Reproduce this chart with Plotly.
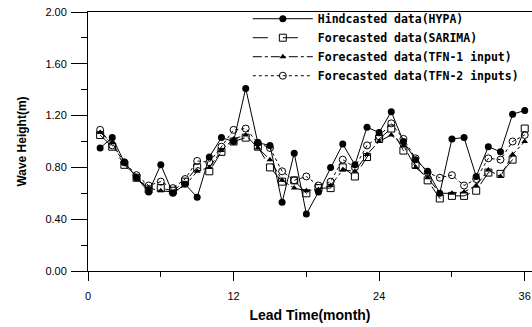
import plotly.graph_objects as go

lead_time = list(range(1, 37))
hypa = [0.95, 1.03, 0.84, 0.72, 0.61, 0.82, 0.60, 0.67, 0.57, 0.88, 1.03, 1.00,
        1.41, 0.99, 0.97, 0.53, 0.91, 0.44, 0.61, 0.80, 0.98, 0.82, 1.11, 1.07,
        1.23, 1.00, 0.86, 0.77, 0.60, 1.02, 1.03, 0.73, 0.96, 0.92, 1.21, 1.24]
sarima = [1.05, 0.96, 0.82, 0.72, 0.63, 0.64, 0.62, 0.69, 0.80, 0.77, 0.92, 1.00,
          1.03, 0.96, 0.80, 0.69, 0.70, 0.60, 0.64, 0.64, 0.80, 0.73, 0.88, 1.02,
          1.10, 0.93, 0.82, 0.70, 0.56, 0.58, 0.58, 0.62, 0.76, 0.75, 0.86, 1.10]
tfn1 = [1.07, 0.99, 0.83, 0.73, 0.64, 0.62, 0.61, 0.66, 0.77, 0.80, 0.93, 1.02,
        1.05, 0.95, 0.86, 0.70, 0.64, 0.62, 0.63, 0.66, 0.78, 0.77, 0.90, 1.00,
        1.05, 0.97, 0.80, 0.72, 0.60, 0.60, 0.61, 0.66, 0.78, 0.73, 0.90, 1.00]
tfn2 = [1.09, 0.97, 0.84, 0.74, 0.66, 0.69, 0.64, 0.71, 0.85, 0.84, 0.96, 1.09,
        1.10, 0.99, 0.95, 0.77, 0.70, 0.73, 0.66, 0.69, 0.86, 0.80, 0.97, 1.04,
        1.14, 1.02, 0.87, 0.76, 0.72, 0.74, 0.66, 0.71, 0.87, 0.86, 1.00, 1.05]

names = ["Hindcasted data(HYPA)", "Forecasted data(SARIMA)",
         "Forecasted data(TFN-1 input)", "Forecasted data(TFN-2 inputs)"]
x_tickvals = [0, 12, 24, 36]
y_tickvals = [0, 0.4, 0.8, 1.2, 1.6, 2.0]
y_ticktext = ["0.00", "0.40", "0.80", "1.20", "1.60", "2.00"]

fig = go.Figure()
fig.add_trace(go.Scatter(x=lead_time, y=hypa, name=names[0], mode="lines+markers",
                         line=dict(color="black", width=1),
                         marker=dict(symbol="circle", size=7, color="black")))
fig.add_trace(go.Scatter(x=lead_time, y=sarima, name=names[1], mode="lines+markers",
                         line=dict(color="black", width=1, dash="longdash"),
                         marker=dict(symbol="square-open", size=7, color="black",
                                     line=dict(width=1))))
fig.add_trace(go.Scatter(x=lead_time, y=tfn1, name=names[2], mode="lines+markers",
                         line=dict(color="black", width=1, dash="dashdot"),
                         marker=dict(symbol="triangle-up", size=6, color="black")))
fig.add_trace(go.Scatter(x=lead_time, y=tfn2, name=names[3], mode="lines+markers",
                         line=dict(color="black", width=1, dash="dot"),
                         marker=dict(symbol="circle-open", size=7, color="black",
                                     line=dict(width=1))))

fig.update_layout(
    width=532, height=327,
    margin=dict(l=88, r=0, t=12, b=56),
    paper_bgcolor="white", plot_bgcolor="white",
    font=dict(family="Liberation Sans, Arial", color="black", size=11),
    legend=dict(x=0.36, y=1.03, xanchor="left", yanchor="top",
                bgcolor="rgba(0,0,0,0)", borderwidth=0,
                font=dict(family="DejaVu Sans Mono", size=11.5, color="black", weight="bold"),
                itemwidth=60, tracegroupgap=0),
    showlegend=True,
)
fig.update_xaxes(range=[0, 36.6], tickvals=x_tickvals, ticks="outside", ticklen=9,
                 tickwidth=1, tickcolor="black", showline=True, linecolor="black",
                 linewidth=1, mirror=True, showgrid=False, zeroline=False,
                 ticklabelstandoff=6,
                 minor=dict(tickvals=[6, 18, 30], ticks="outside", ticklen=5,
                            tickcolor="black"),
                 title=dict(text="<b>Lead Time(month)</b>", font=dict(size=14), standoff=8),
                 tickfont=dict(size=11))
fig.update_yaxes(range=[0, 2.0], tickvals=y_tickvals, ticktext=y_ticktext,
                 ticks="outside", ticklen=16, tickwidth=1, tickcolor="black",
                 showline=True, linecolor="black", linewidth=1, mirror=False,
                 showgrid=False, zeroline=False, ticklabelstandoff=2,
                 minor=dict(tickvals=[0.2, 0.6, 1.0, 1.4, 1.8], ticks="outside",
                            ticklen=6, tickcolor="black"),
                 title=dict(text="<b>Wave Height(m)</b>", font=dict(size=12), standoff=16),
                 tickfont=dict(size=11))

fig.write_html("out.html")
